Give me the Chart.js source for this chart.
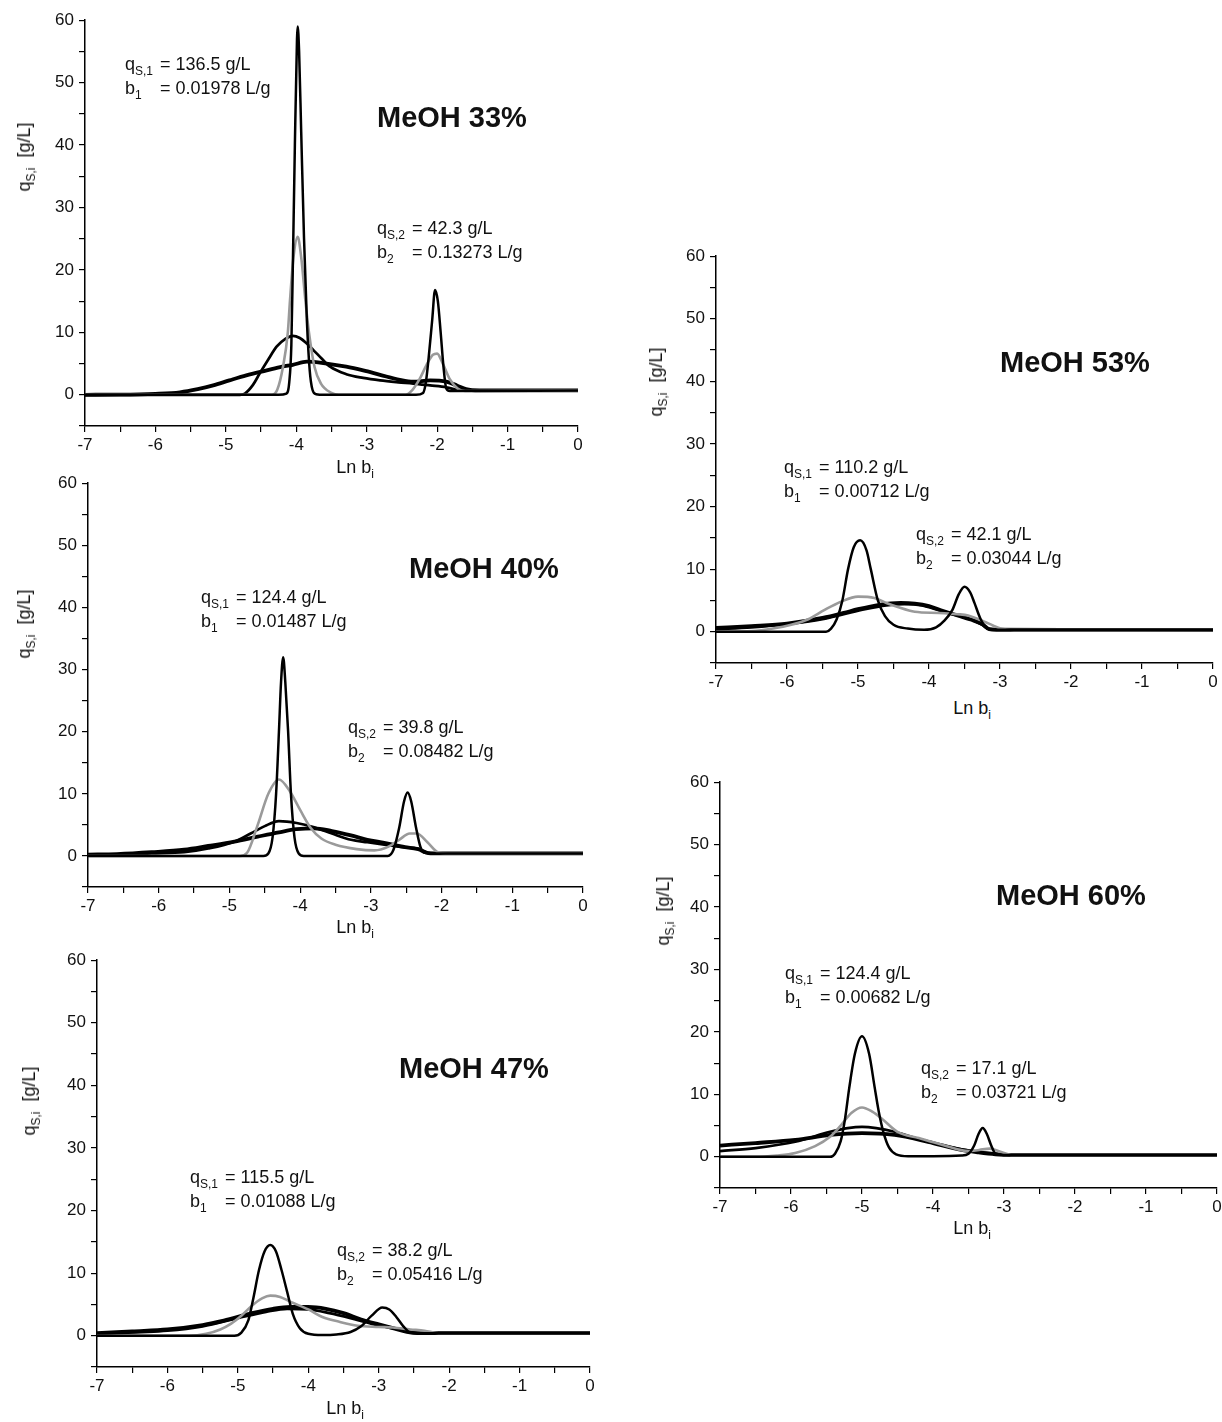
<!DOCTYPE html>
<html lang="en">
<head>
<meta charset="UTF-8">
<title>MeOH q_s,i vs Ln b_i</title>
<script src="https://cdn.jsdelivr.net/npm/chart.js"></script>
<style>
  html, body { margin: 0; padding: 0; background: #fff; }
  #page { position: relative; width: 1222px; height: 1422px; overflow: hidden; font-family: "Liberation Sans", Arial, Helvetica, sans-serif; color: #111; }
  #page canvas { position: absolute; }
  .txt { position: absolute; white-space: nowrap; line-height: 20px; }
  .note { font-size: 18px; }
  .note .lhs { display: inline-block; width: 35px; }
  .big { font-size: 29px; font-weight: bold; line-height: 32px; }
  .axt { font-size: 18px; }
  sub { font-size: 12px; vertical-align: -5px; line-height: 0; }
</style>
</head>
<body>
<div id="page"></div>
<script>
// tick labels shared by all five panels
const xTickLabels = [-7, -6, -5, -4, -3, -2, -1, 0];
const yTickLabels = [0, 10, 20, 30, 40, 50, 60];

// MeOH 33%
const m33_sharp = [[-7,0],[-4.25,0],[-4.14,0.2],[-4.1,2],[-4.07,8],[-4.05,20],[-4.02,40],[-3.99,57],[-3.98,59],[-3.96,55],[-3.93,42],[-3.89,25],[-3.85,12],[-3.81,4],[-3.77,0.8],[-3.72,0.1],[-3.6,0],[-2.3,0],[-2.2,0.3],[-2.16,2],[-2.12,6],[-2.07,12],[-2.03,16.8],[-1.99,15],[-1.95,10],[-1.91,4.5],[-1.87,1],[-1.82,0.6],[0,0.7]];
const m33_gray = [[-7,0],[-4.35,0],[-4.27,0.8],[-4.19,4.4],[-4.12,10],[-4.09,15],[-4.04,22],[-3.98,25.3],[-3.93,22],[-3.87,15],[-3.82,10],[-3.74,4.4],[-3.65,1.8],[-3.5,0.3],[-3.4,0],[-2.45,0],[-2.35,0.8],[-2.25,2.5],[-2.15,4.8],[-2.06,6.4],[-2.0,6.6],[-1.92,5],[-1.82,2.5],[-1.7,0.9],[-1.6,0.6],[0,0.7]];
const m33_medium = [[-7,0],[-4.8,0],[-4.73,0.2],[-4.62,1.5],[-4.52,3.4],[-4.4,5.6],[-4.28,7.7],[-4.15,9.0],[-4.05,9.45],[-3.95,9.1],[-3.85,8.2],[-3.76,7.2],[-3.64,5.8],[-3.52,4.5],[-3.29,3.3],[-3.05,2.7],[-2.81,2.3],[-2.55,2.0],[-2.34,1.8],[-2.1,1.5],[-1.87,1.2],[-1.64,0.65],[-1.4,0.7],[0,0.7]];
const m33_thick = [[-7,0],[-6.5,0.02],[-6,0.15],[-5.65,0.4],[-5.4,0.9],[-5.18,1.5],[-4.95,2.3],[-4.71,3.1],[-4.42,3.9],[-4.2,4.5],[-4.05,4.8],[-3.85,5.3],[-3.57,5.0],[-3.29,4.5],[-3.05,3.9],[-2.81,3.2],[-2.53,2.4],[-2.34,2.1],[-2.1,2.3],[-1.87,2.1],[-1.72,1.5],[-1.59,0.9],[-1.4,0.7],[0,0.7]];

// MeOH 40%
const m40_sharp = [[-7,0],[-4.52,0],[-4.45,0.4],[-4.39,3],[-4.34,10],[-4.3,20],[-4.27,28],[-4.24,32],[-4.21,28],[-4.17,20],[-4.13,10],[-4.08,3],[-4.02,0.4],[-3.95,0],[-2.76,0],[-2.68,1],[-2.6,4.5],[-2.53,8.8],[-2.48,10.2],[-2.43,8.8],[-2.36,4.5],[-2.3,1.5],[-2.24,0.5],[-2.1,0.4],[0,0.4]];
const m40_gray = [[-7,0],[-4.85,0],[-4.75,0.5],[-4.6,5],[-4.45,10],[-4.3,12.3],[-4.15,10.5],[-4.0,7.4],[-3.85,4.5],[-3.7,2.8],[-3.5,1.8],[-3.2,1.1],[-2.95,0.9],[-2.75,1.5],[-2.6,2.6],[-2.45,3.6],[-2.35,3.6],[-2.2,2.2],[-2.05,0.6],[-1.9,0.4],[0,0.4]];
const m40_medium = [[-7,0.1],[-6.59,0.2],[-6.1,0.4],[-5.64,0.6],[-5.3,1.2],[-4.93,2.3],[-4.7,3.6],[-4.5,4.8],[-4.3,5.6],[-4.05,5.3],[-3.8,4.6],[-3.55,3.6],[-3.28,2.6],[-3.05,2.2],[-2.81,1.8],[-2.55,1.4],[-2.33,1.2],[-2.19,0.5],[-2.0,0.4],[0,0.4]];
const m40_thick = [[-7,0.2],[-6.59,0.3],[-6.1,0.6],[-5.64,1.0],[-5.3,1.6],[-4.93,2.3],[-4.6,3.1],[-4.3,3.8],[-4.05,4.3],[-3.8,4.45],[-3.55,4.0],[-3.28,3.3],[-3.05,2.6],[-2.81,2.1],[-2.55,1.5],[-2.33,1.07],[-2.19,0.45],[-2.0,0.4],[0,0.4]];

// MeOH 47%
const m47_sharp = [[-7,0],[-5.05,0],[-4.95,0.5],[-4.85,2.5],[-4.78,6],[-4.7,10.5],[-4.62,13.5],[-4.54,14.5],[-4.46,13.5],[-4.38,10.5],[-4.3,7],[-4.22,3.5],[-4.12,1.2],[-4.0,0.3],[-3.8,0.1],[-3.6,0.2],[-3.4,0.6],[-3.25,1.5],[-3.1,3.2],[-2.95,4.5],[-2.85,4.2],[-2.75,3],[-2.65,1.5],[-2.55,0.5],[-2.4,0.4],[0,0.4]];
const m47_gray = [[-7,0],[-5.7,0],[-5.45,0.3],[-5.25,1],[-5.1,1.9],[-4.95,3.2],[-4.8,4.8],[-4.65,6],[-4.54,6.4],[-4.4,6.2],[-4.25,5.4],[-4.0,4.2],[-3.8,3.0],[-3.55,2.2],[-3.3,1.6],[-3.0,1.4],[-2.8,1.3],[-2.55,1.0],[-2.35,0.8],[-2.15,0.4],[0,0.4]];
const m47_medium = [[-7,0.3],[-6,0.8],[-5.5,1.5],[-5,2.8],[-4.6,3.8],[-4.3,4.3],[-4.0,4.2],[-3.7,3.6],[-3.4,2.8],[-3.1,1.9],[-2.8,1.2],[-2.55,0.6],[-2.4,0.4],[0,0.4]];
const m47_thick = [[-7,0.4],[-6.5,0.7],[-6,1.0],[-5.5,1.7],[-5.2,2.4],[-4.8,3.6],[-4.5,4.3],[-4.25,4.6],[-4.0,4.6],[-3.75,4.3],[-3.5,3.6],[-3.25,2.6],[-3.0,1.8],[-2.8,1.2],[-2.6,0.6],[-2.45,0.4],[0,0.4]];

// MeOH 53%
const m53_sharp = [[-7,0],[-5.45,0],[-5.38,0.5],[-5.3,2],[-5.22,5],[-5.14,10],[-5.06,13.5],[-4.97,14.6],[-4.88,13],[-4.82,10],[-4.72,5],[-4.62,2.5],[-4.5,1.1],[-4.3,0.5],[-4.07,0.3],[-3.9,0.7],[-3.78,1.8],[-3.67,3.5],[-3.58,6],[-3.5,7.2],[-3.42,6.3],[-3.36,4.6],[-3.28,2.2],[-3.2,0.7],[-3.12,0.3],[0,0.3]];
const m53_gray = [[-7,0],[-6.5,0.1],[-6.2,0.5],[-5.94,1.1],[-5.7,2.0],[-5.47,3.5],[-5.24,4.8],[-5.0,5.6],[-4.77,5.4],[-4.6,4.6],[-4.45,4.0],[-4.2,3.2],[-3.86,3.0],[-3.6,2.8],[-3.45,2.6],[-3.22,1.6],[-3.1,1.0],[-2.99,0.5],[-2.8,0.3],[0,0.3]];
const m53_medium = [[-7,0.4],[-6.5,0.7],[-6,1.2],[-5.5,2.0],[-5.2,2.8],[-4.9,3.6],[-4.6,4.2],[-4.35,4.4],[-4.1,4.2],[-3.85,3.4],[-3.6,2.6],[-3.4,1.9],[-3.25,1.1],[-3.15,0.4],[0,0.3]];
const m53_thick = [[-7,0.6],[-6.5,0.9],[-6,1.3],[-5.5,2.2],[-5.2,3.0],[-5.0,3.6],[-4.7,4.3],[-4.4,4.6],[-4.2,4.5],[-4.0,4.1],[-3.8,3.3],[-3.6,2.6],[-3.4,1.9],[-3.25,1.2],[-3.15,0.4],[-3.05,0.3],[0,0.3]];

// MeOH 60%
const m60_sharp = [[-7,0],[-5.45,0],[-5.38,0.5],[-5.3,2.5],[-5.24,6],[-5.18,11],[-5.1,16.5],[-5.0,19.3],[-4.9,16.5],[-4.82,11],[-4.76,7],[-4.7,4],[-4.62,1.5],[-4.52,0.4],[-4.35,0.1],[-4.0,0.1],[-3.6,0.2],[-3.5,0.5],[-3.42,1.8],[-3.36,3.6],[-3.3,4.6],[-3.24,3.6],[-3.18,1.8],[-3.12,0.5],[-3.0,0.3],[0,0.3]];
const m60_gray = [[-7,0],[-6.5,0],[-6.2,0.2],[-5.94,0.6],[-5.66,1.7],[-5.45,3.2],[-5.3,5],[-5.15,7],[-5.0,7.9],[-4.85,7.2],[-4.72,6.1],[-4.5,4.0],[-4.2,3.0],[-3.86,1.9],[-3.5,0.9],[-3.35,1.1],[-3.2,1.3],[-3.05,0.8],[-2.9,0.3],[0,0.3]];
const m60_medium = [[-7,0.9],[-6.5,1.4],[-5.94,2.4],[-5.45,4.0],[-5.2,4.6],[-5.0,4.8],[-4.8,4.6],[-4.54,4.0],[-4.07,2.4],[-3.6,1.2],[-3.12,0.5],[-2.9,0.3],[0,0.3]];
const m60_thick = [[-7,1.8],[-6.5,2.2],[-5.94,2.7],[-5.45,3.5],[-5.0,3.8],[-4.54,3.5],[-4.07,2.4],[-3.6,1.1],[-3.36,0.7],[-3.12,0.4],[-2.9,0.3],[0,0.3]];

// panel layout: pixel edges of each plot box on the page, and its texts
const panels = [
  { data: [m33_sharp, m33_gray, m33_medium, m33_thick], box: [85, 20, 578, 426],
    title: 'MeOH 33%', titleAt: [377, 117],
    q1: ['S,1', '136.5 g/L'], b1: ['1', '0.01978 L/g'], n1At: [125, 64],
    q2: ['S,2', '42.3 g/L'], b2: ['2', '0.13273 L/g'], n2At: [377, 228],
    yt: [24, 157], xt: [355, 467] },
  { data: [m40_sharp, m40_gray, m40_medium, m40_thick], box: [88, 483, 583, 887],
    title: 'MeOH 40%', titleAt: [409, 568],
    q1: ['S,1', '124.4 g/L'], b1: ['1', '0.01487 L/g'], n1At: [201, 597],
    q2: ['S,2', '39.8 g/L'], b2: ['2', '0.08482 L/g'], n2At: [348, 727],
    yt: [24, 624], xt: [355, 927] },
  { data: [m47_sharp, m47_gray, m47_medium, m47_thick], box: [97, 960, 590, 1367],
    title: 'MeOH 47%', titleAt: [399, 1068],
    q1: ['S,1', '115.5 g/L'], b1: ['1', '0.01088 L/g'], n1At: [190, 1177],
    q2: ['S,2', '38.2 g/L'], b2: ['2', '0.05416 L/g'], n2At: [337, 1250],
    yt: [29, 1101], xt: [345, 1408] },
  { data: [m53_sharp, m53_gray, m53_medium, m53_thick], box: [716, 256, 1213, 663],
    title: 'MeOH 53%', titleAt: [1000, 362],
    q1: ['S,1', '110.2 g/L'], b1: ['1', '0.00712 L/g'], n1At: [784, 467],
    q2: ['S,2', '42.1 g/L'], b2: ['2', '0.03044 L/g'], n2At: [916, 534],
    yt: [656, 382], xt: [972, 708] },
  { data: [m60_sharp, m60_gray, m60_medium, m60_thick], box: [720, 782, 1217, 1188],
    title: 'MeOH 60%', titleAt: [996, 895],
    q1: ['S,1', '124.4 g/L'], b1: ['1', '0.00682 L/g'], n1At: [785, 973],
    q2: ['S,2', '17.1 g/L'], b2: ['2', '0.03721 L/g'], n2At: [921, 1068],
    yt: [663, 911], xt: [972, 1228] }
];

// how each of the four curves is drawn
const curveStyles = [
  { color: '#000', width: 2.5 },
  { color: '#9a9a9a', width: 2.6 },
  { color: '#000', width: 2.7 },
  { color: '#000', width: 3.8 }
];

const page = document.getElementById('page');
const PAD_L = 70, PAD_T = 15, PAD_R = 12, PAD_B = 34;

function addText(x, y, html, cls) {
  const d = document.createElement('div');
  d.className = 'txt ' + cls;
  d.innerHTML = html;
  d.style.left = x + 'px';
  d.style.top = y + 'px';
  page.appendChild(d);
  return d;
}

panels.forEach(p => {
  const [x0, y0, x1, y1] = p.box;
  const cv = document.createElement('canvas');
  const w = x1 - x0 + PAD_L + PAD_R, h = y1 - y0 + PAD_T + PAD_B;
  cv.width = w; cv.height = h;
  cv.style.left = (x0 - PAD_L) + 'px';
  cv.style.top = (y0 - PAD_T) + 'px';
  cv.style.width = w + 'px'; cv.style.height = h + 'px';
  page.appendChild(cv);

  new Chart(cv, {
    type: 'line',
    data: {
      datasets: p.data.map((pts, i) => ({
        data: pts.map(q => ({ x: q[0], y: q[1] })),
        borderColor: curveStyles[i].color,
        borderWidth: curveStyles[i].width,
        pointRadius: 0,
        fill: false,
        cubicInterpolationMode: 'monotone',
        order: i
      }))
    },
    options: {
      responsive: false,
      animation: false,
      devicePixelRatio: 1,
      layout: { padding: { left: 0, top: PAD_T, right: PAD_R, bottom: 0 } },
      plugins: { legend: { display: false }, tooltip: { enabled: false } },
      scales: {
        x: {
          type: 'linear', min: -7, max: 0,
          border: { color: '#000', width: 1.5 },
          grid: { drawOnChartArea: false, drawTicks: true, tickLength: 6, color: '#000', lineWidth: 1.2 },
          ticks: {
            stepSize: 0.5, autoSkip: false, maxRotation: 0, minRotation: 0, padding: 3,
            color: '#111', font: { family: '"Liberation Sans", Arial', size: 17 },
            callback: v => xTickLabels.includes(v) ? String(v) : ''
          },
          afterFit: s => { s.height = PAD_B; }
        },
        y: {
          type: 'linear', min: -5, max: 60,
          border: { color: '#000', width: 1.5 },
          grid: { drawOnChartArea: false, drawTicks: true, tickLength: 6, color: '#000', lineWidth: 1.2 },
          ticks: {
            stepSize: 5, autoSkip: false, padding: 5,
            color: '#111', font: { family: '"Liberation Sans", Arial', size: 17 },
            callback: v => yTickLabels.includes(v) ? String(v) : ''
          },
          afterFit: s => { s.width = PAD_L; }
        }
      }
    }
  });

  // texts
  addText(p.titleAt[0], p.titleAt[1] - 16, p.title, 'big');
  addText(p.n1At[0], p.n1At[1] - 10, '<span class="lhs">q<sub>' + p.q1[0] + '</sub></span>= ' + p.q1[1], 'note');
  addText(p.n1At[0], p.n1At[1] + 14, '<span class="lhs">b<sub>' + p.b1[0] + '</sub></span>= ' + p.b1[1], 'note');
  addText(p.n2At[0], p.n2At[1] - 10, '<span class="lhs">q<sub>' + p.q2[0] + '</sub></span>= ' + p.q2[1], 'note');
  addText(p.n2At[0], p.n2At[1] + 14, '<span class="lhs">b<sub>' + p.b2[0] + '</sub></span>= ' + p.b2[1], 'note');

  const yt = addText(p.yt[0], p.yt[1], 'q<sub>S,i</sub>&nbsp; [g/L]', 'axt');
  yt.style.transform = 'translate(-50%, -50%) rotate(-90deg)';
  const xt = addText(p.xt[0], p.xt[1], 'Ln b<sub>i</sub>', 'axt');
  xt.style.transform = 'translate(-50%, -50%)';
});
</script>
</body>
</html>
